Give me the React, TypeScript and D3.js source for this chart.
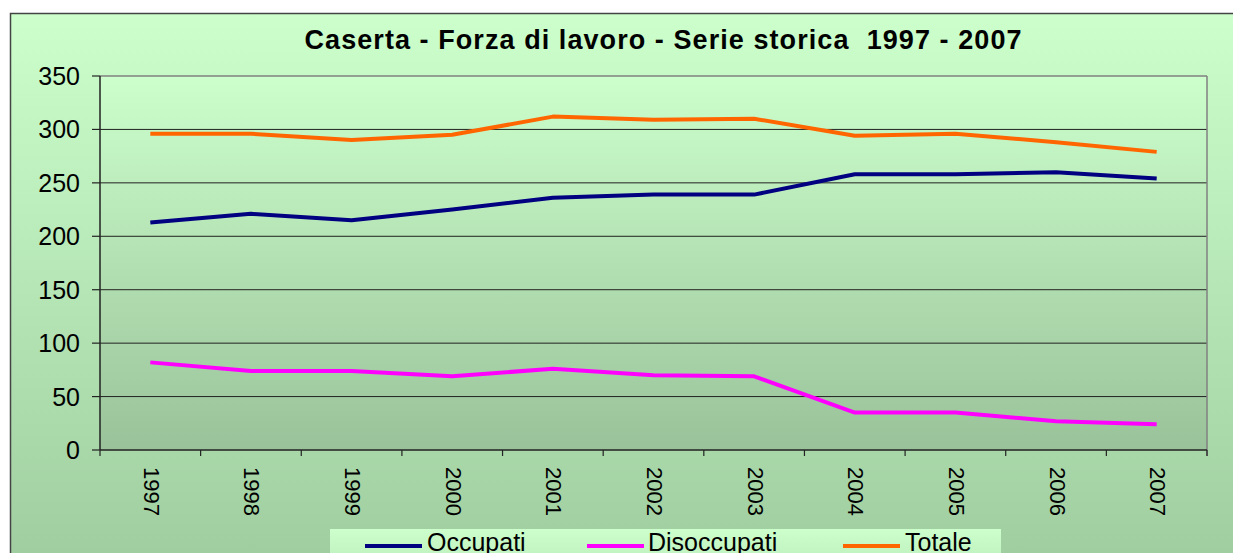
import React from "react";
import * as d3 from "d3";

const years = ["1997", "1998", "1999", "2000", "2001", "2002", "2003", "2004", "2005", "2006", "2007"];
const occupati = [213, 221, 215, 225, 236, 239, 239, 258, 258, 260, 254];
const disoccupati = [82, 74, 74, 69, 76, 70, 69, 35, 35, 27, 24];
const totale = [296, 296, 290, 295, 312, 309, 310, 294, 296, 288, 279];
const yTicks = [0, 50, 100, 150, 200, 250, 300, 350];
const seriesNames = ["Occupati", "Disoccupati", "Totale"];
const seriesColors = ["#000080", "#FF00FF", "#FF6600"];
const title = "Caserta - Forza di lavoro - Serie storica  1997 - 2007";

const W = 1233;
const H = 553;
const FONT = "'Liberation Sans', Arial, sans-serif";

export default function App() {
  const plot = { left: 100, right: 1207, top: 76, bottom: 450 };
  const x = d3.scaleBand<string>().domain(years).range([plot.left, plot.right]);
  const y = d3.scaleLinear().domain([0, 350]).range([plot.bottom, plot.top]);
  const cx = (yr: string) => (x(yr) as number) + x.bandwidth() / 2;
  const line = d3
    .line<number>()
    .x((_, i) => cx(years[i]))
    .y((v) => y(v));
  const allSeries = [occupati, disoccupati, totale];
  const boundaries = years.map((yr) => x(yr) as number).concat([plot.right]);

  const legendItems = [
    { lx: 365, tx: 427 },
    { lx: 587, tx: 648 },
    { lx: 843, tx: 905 },
  ];

  return (
    <svg
      width={W}
      height={H}
      style={{ position: "absolute", left: 0, top: 0, fontFamily: FONT }}
    >
      <defs>
        <linearGradient id="outerG" gradientUnits="userSpaceOnUse" x1="0" y1="13" x2="0" y2="640">
          <stop offset="0" stopColor="#CCFFCC" />
          <stop offset="1" stopColor="#99C699" />
        </linearGradient>
        <linearGradient id="plotG" gradientUnits="userSpaceOnUse" x1="0" y1={plot.top} x2="0" y2={plot.bottom}>
          <stop offset="0" stopColor="#CCFFCC" />
          <stop offset="1" stopColor="#9AC29A" />
        </linearGradient>
        <linearGradient id="legG" gradientUnits="userSpaceOnUse" x1="0" y1="529" x2="0" y2="580">
          <stop offset="0" stopColor="#CCFFCC" />
          <stop offset="1" stopColor="#B8E8B8" />
        </linearGradient>
      </defs>
      <rect x={0} y={0} width={W} height={H} fill="#ffffff" />
      <rect x={10.5} y={13.5} width={1260} height={620} fill="url(#outerG)" stroke="#444" strokeWidth={1.5} />

      <text
        x={663}
        y={49}
        textAnchor="middle"
        fontWeight="bold"
        fontSize={27}
        textLength={717}
        lengthAdjust="spacing"
        fill="#000"
        style={{ whiteSpace: "pre" }}
        xmlSpace="preserve"
      >
        {title}
      </text>

      <rect
        x={plot.left}
        y={plot.top}
        width={plot.right - plot.left}
        height={plot.bottom - plot.top}
        fill="url(#plotG)"
      />
      {yTicks
        .filter((t) => t > 0 && t < 350)
        .map((t) => (
          <line key={t} x1={plot.left} x2={plot.right} y1={y(t)} y2={y(t)} stroke="#222" strokeWidth={1} />
        ))}
      <line x1={plot.left} x2={plot.right} y1={plot.top} y2={plot.top} stroke="#808080" strokeWidth={1.5} />
      <line x1={plot.right} x2={plot.right} y1={plot.top} y2={plot.bottom + 6} stroke="#808080" strokeWidth={1.5} />

      <line x1={plot.left} x2={plot.left} y1={plot.top} y2={plot.bottom} stroke="#222" strokeWidth={1.5} />
      <line x1={plot.left} x2={plot.right} y1={plot.bottom} y2={plot.bottom} stroke="#222" strokeWidth={1.5} />
      {yTicks.map((t) => (
        <g key={t}>
          <line x1={plot.left - 8} x2={plot.left} y1={y(t)} y2={y(t)} stroke="#222" strokeWidth={1.2} />
          <text x={80} y={y(t)} textAnchor="end" dominantBaseline="central" fontSize={25} fill="#000">
            {t}
          </text>
        </g>
      ))}
      {boundaries.map((b, i) => (
        <line key={i} x1={b} x2={b} y1={plot.bottom} y2={plot.bottom + 6} stroke="#222" strokeWidth={1.2} />
      ))}
      {years.map((yr) => (
        <text
          key={yr}
          transform={`translate(${cx(yr) + 1},467) rotate(90)`}
          textAnchor="start"
          dominantBaseline="central"
          fontSize={22}
          fill="#000"
        >
          {yr}
        </text>
      ))}

      {allSeries.map((s, i) => (
        <path key={i} d={line(s) || ""} fill="none" stroke={seriesColors[i]} strokeWidth={4} strokeLinejoin="round" />
      ))}

      <rect x={330} y={529} width={671} height={40} fill="url(#legG)" />
      {legendItems.map((it, i) => (
        <g key={i}>
          <line x1={it.lx} x2={it.lx + 57} y1={546} y2={546} stroke={seriesColors[i]} strokeWidth={4} />
          <text x={it.tx} y={551} fontSize={25} fill="#000">
            {seriesNames[i]}
          </text>
        </g>
      ))}
    </svg>
  );
}
